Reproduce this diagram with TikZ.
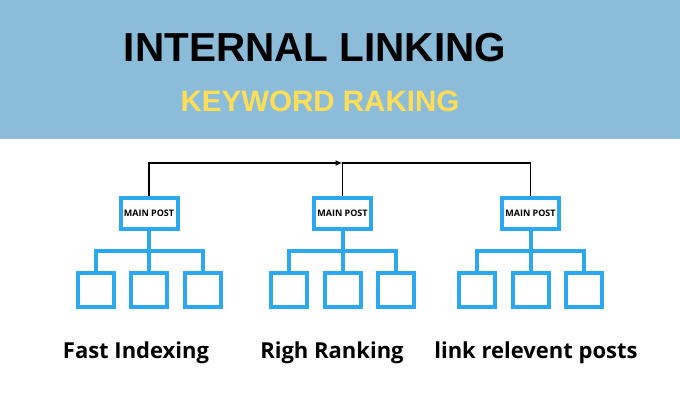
\documentclass[tikz,border=0pt]{standalone}
\usepackage{fontspec}
\setmainfont{Open Sans}
\newfontfamily\headfont{Liberation Sans}
\usetikzlibrary{positioning,arrows.meta}
\definecolor{bandblue}{RGB}{139,189,219}
\definecolor{treeblue}{RGB}{42,168,240}
\definecolor{keyyellow}{RGB}{255,221,85}

\begin{document}
\begin{tikzpicture}[
  x=1pt, y=-1pt, >=Latex,
  mainpost/.style={rectangle, draw=treeblue, line width=4pt, fill=white, minimum width=57pt, minimum height=31pt,
    inner sep=0pt, font=\fontsize{9}{10}\selectfont\bfseries},
  leaf/.style={rectangle, draw=treeblue, line width=4pt, fill=white, minimum width=36pt, minimum height=34pt, inner sep=0pt},
  branch/.style={draw=treeblue, line width=4pt},
  link/.style={draw=black, line width=1.5pt},
  caption/.style={font=\fontsize{22}{25}\selectfont\bfseries, anchor=base, inner sep=0pt}
]
% header band
\fill[bandblue] (0,0) rectangle (680,139);
\useasboundingbox (0,0) rectangle (680,409);
\node[font=\headfont\bfseries\fontsize{40.5}{44}\selectfont, anchor=base, inner sep=0pt] (title) at (315,62) {INTERNAL LINKING};
\node[font=\headfont\bfseries\fontsize{29.5}{32}\selectfont, text=keyyellow, anchor=base, inner sep=0pt] (sub) at (320,112) {KEYWORD RAKING};

% three trees
\node[mainpost] (m1) at (149,213) {MAIN POST};
\node[leaf, below=40pt of m1] (c12) {};
\node[leaf, left=13.5pt of c12] (c11) {};
\node[leaf, right=13.5pt of c12] (c13) {};

\node[mainpost] (m2) at (342.5,213) {MAIN POST};
\node[leaf, below=40pt of m2] (c22) {};
\node[leaf, left=13.5pt of c22] (c21) {};
\node[leaf, right=13.5pt of c22] (c23) {};

\node[mainpost] (m3) at (530.5,213) {MAIN POST};
\node[leaf, below=40pt of m3] (c32) {};
\node[leaf, left=13.5pt of c32] (c31) {};
\node[leaf, right=13.5pt of c32] (c33) {};

\draw[branch] (c11.north) -- ++(0,-20) -| (c13.north);
\draw[branch] (m1.south) -- (c12.north);
\draw[branch] (c21.north) -- ++(0,-20) -| (c23.north);
\draw[branch] (m2.south) -- (c22.north);
\draw[branch] (c31.north) -- ++(0,-20) -| (c33.north);
\draw[branch] (m3.south) -- (c32.north);

% link between the main posts
\coordinate (top) at (0,163);
\coordinate (jn) at (m2.north |- top);
\draw[link, -{Latex[length=7pt,width=6pt]}] (m1.north) |- (jn);
\draw[link] (m2.north) -- (jn) -| (m3.north);

% captions
\node[caption] (cap1) at (136,358) {Fast Indexing};
\node[caption] (cap2) at (332,358) {Righ Ranking};
\node[caption] (cap3) at (536,358) {link relevent posts};
\end{tikzpicture}
\end{document}
